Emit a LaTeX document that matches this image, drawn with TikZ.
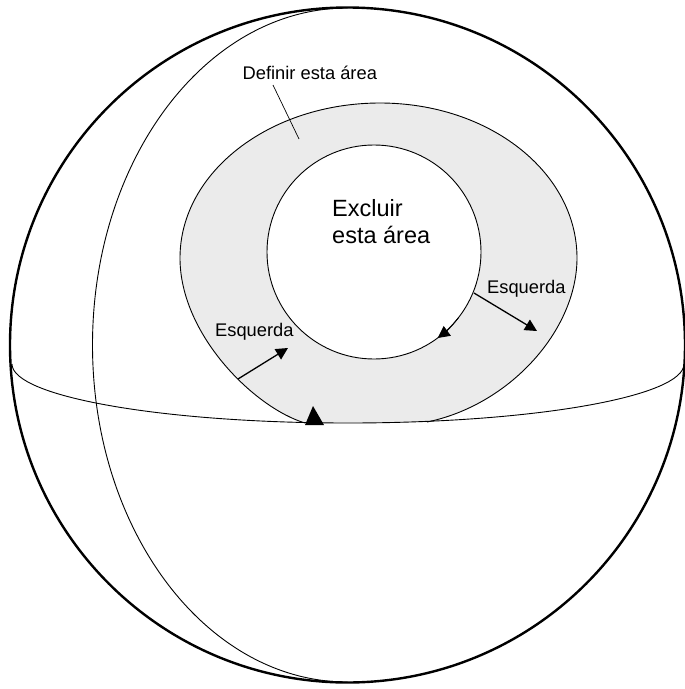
\documentclass[tikz,border=0pt]{standalone}
\usepackage{fontspec}
\setmainfont{Liberation Sans}
\usepackage{xcolor}
\usetikzlibrary{arrows.meta, positioning}
\definecolor{areagray}{RGB}{235,235,235}

\begin{document}
\begin{tikzpicture}[x=1pt, y=-1pt, line join=round,
		lbl/.style={inner sep=0pt, font=\fontsize{18.3}{20}\selectfont},
		big/.style={inner sep=0pt, font=\fontsize{23.5}{27}\selectfont, align=left},
		pointer/.style={line width=1.3pt, -{Triangle[length=12pt, width=12pt]}}]
	\useasboundingbox (0,0) rectangle (685,689);

	% area to define
	\fill[areagray] (305,423) .. controls (255,408) and (180,335) .. (180,258)
		.. controls (180,172) and (270,103) .. (380,103)
		.. controls (489,103) and (577,172) .. (577,258)
		.. controls (577,330) and (510,405) .. (427,422) -- cycle;
	\draw[line width=0.9pt] (305,423) .. controls (255,408) and (180,335) .. (180,258)
		.. controls (180,172) and (270,103) .. (380,103)
		.. controls (489,103) and (577,172) .. (577,258)
		.. controls (577,330) and (510,405) .. (427,422);

	% area to exclude
	\draw[line width=0.9pt, fill=white] (374,252) circle[radius=107];

	% sphere
	\draw[line width=2.4pt] (347.5,345) circle[radius=337.5];
	\draw[line width=0.9pt] (347.5,8) arc[start angle=270, end angle=90, x radius=255, y radius=337];
	\draw[line width=0.9pt] (12,364) arc[start angle=180, end angle=0, x radius=336, y radius=59];

	% direction marks
	\fill (305,425) -- (313,406) -- (324,425) -- cycle;
	\draw[line width=0.9pt, -{Triangle[length=12pt, width=12pt]}]
		(374,252) ++(38:107) arc[start angle=38, end angle=53.5, radius=107];

	% labels
	\node[lbl, anchor=base west] (definir) at (242.5,79.5) {Definir esta área};
	\coordinate (definirtip) at (299,139);
	\draw[line width=0.7pt] (273,85) -- (definirtip);

	\node[big, anchor=base west] (excluir) at (332,243.3) {Excluir\\esta área};

	\node[lbl, anchor=base west] (esqdir) at (487,293) {Esquerda};
	\coordinate (esqdirstart) at (474,293);
	\coordinate (esqdirend) at (537,331);
	\draw[pointer] (esqdirstart) -- (esqdirend);

	\node[lbl, anchor=base west] (esqesq) at (215,336.7) {Esquerda};
	\coordinate (esqesqstart) at (238,379);
	\coordinate (esqesqend) at (288,348);
	\draw[pointer] (esqesqstart) -- (esqesqend);
\end{tikzpicture}
\end{document}
